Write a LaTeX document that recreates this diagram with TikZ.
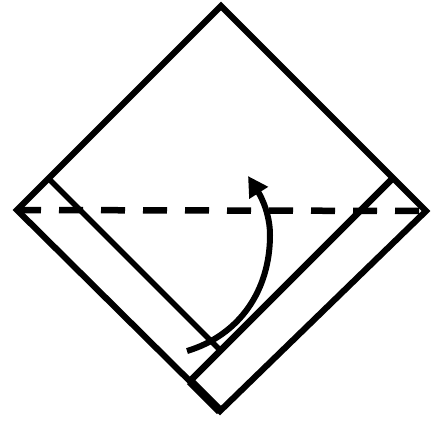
\documentclass[tikz,border=0pt]{standalone}
\usepackage{tikz}
\usetikzlibrary{arrows.meta}

\begin{document}
\begin{tikzpicture}[x=1pt, y=-1pt, >={Triangle[length=20pt, width=21pt]}]
    % Stili per le pieghe
    \tikzset{
        edgeline/.style={line width=6.2pt, line cap=round, line join=miter},
        foldline/.style={line width=6.5pt, dash pattern=on 24pt off 18pt},
        flapline/.style={line width=5.6pt}
    }

    \useasboundingbox (0,0) rectangle (436,423);

    % Vertici del quadrato
    \coordinate (top) at (221,6);
    \coordinate (left) at (17,210);
    \coordinate (right) at (426,211);
    \coordinate (bottom) at (220,411);

    % Estremi dei lembi piegati
    \coordinate (flapA) at (49,179);
    \coordinate (flapB) at (220,350);
    \coordinate (flapC) at (392,179);
    \coordinate (flapD) at (190,381);

    % --- Contorno ---
    \draw[edgeline] (top) -- (right) -- (bottom) -- (left) -- cycle;
    \draw[line width=8.5pt] (flapD) -- (bottom);

    % --- Lembi ---
    \draw[flapline] (flapA) -- (flapB);
    \draw[line width=6.5pt] (flapC) -- (flapD);

    % --- Linea di piega ---
    \draw[foldline] (left) -- (right);

    % --- Freccia ---
    \draw[->, line width=6pt] (187,351) .. controls (240,335) and (270,290) .. (270,235)
        .. controls (270,215) and (262,198) .. (248,176);
\end{tikzpicture}
\end{document}
